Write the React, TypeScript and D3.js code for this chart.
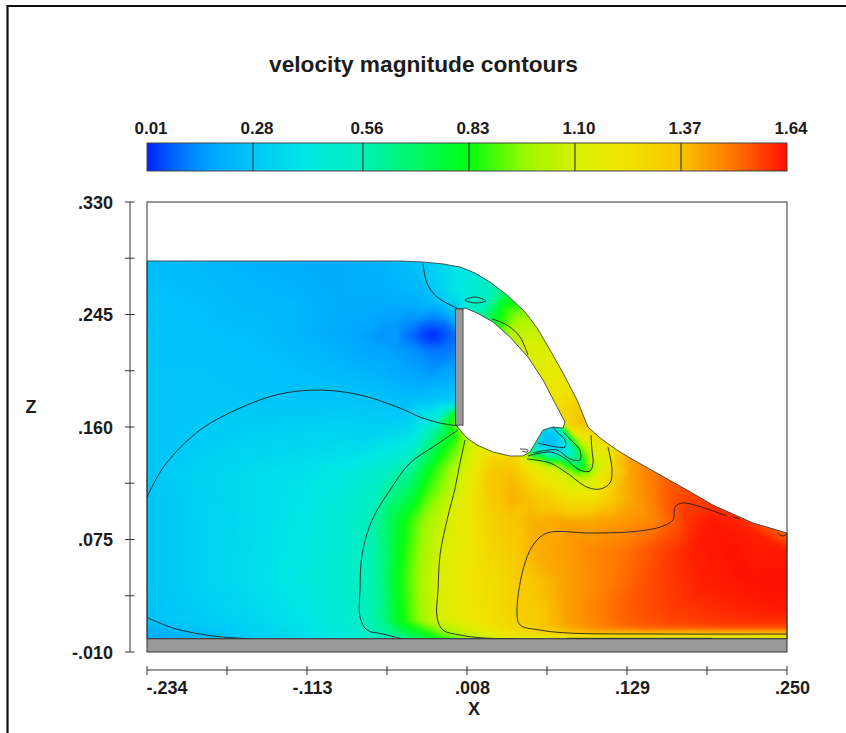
import React, { useMemo } from "react";
import * as d3 from "d3";

// All X / Z values are in thousandths of the axis units.
const xTicks = [-234, -173.5, -113, -52.5, 8, 68.5, 129, 189.5, 250];
const xTickLabels = ["-.234", "", "-.113", "", ".008", "", ".129", "", ".250"];
const zTicks = [330, 287.5, 245, 202.5, 160, 117.5, 75, 32.5, -10];
const zTickLabels = [".330", "", ".245", "", ".160", "", ".075", "", "-.010"];
const barLevels = [0.01, 0.28, 0.56, 0.83, 1.1, 1.37, 1.64];
const barLabels = ["0.01", "0.28", "0.56", "0.83", "1.10", "1.37", "1.64"];

const colorStops = [0.01, 0.08, 0.17, 0.28, 0.42, 0.56, 0.83, 0.98, 1.1, 1.22, 1.37, 1.5, 1.64];
const colorValues = ["#0020ff", "#0068ff", "#00a4ff", "#00c8f8", "#00e8e4", "#00f0b8", "#00ff10", "#a0f800", "#d8f000", "#f0e400", "#f8c400", "#ff7800", "#ff1000"];

const outerBoundary: [number, number][] = [[-234, 285.4], [-118.3, 285.4], [-42.7, 285.4], [-25.3, 284.7], [-10.2, 283.2], [2.7, 280.9], [14.1, 276.3], [25.4, 269.5], [38.3, 259.7], [51.9, 246.9], [61, 234.8], [70.8, 218.2], [80.6, 200.8], [91.2, 180.4], [99.5, 160], [108.6, 151.7], [121.4, 142.6], [131.3, 136.6], [174.4, 112.4], [194, 101], [224.3, 87.5], [250, 79.9], [250, 0], [-234, 0]];
const cavityBoundary: [number, number][] = [[-0.7, 249.2], [5, 249.2], [6.5, 249.9], [15.6, 246.1], [27.7, 239.3], [40.5, 228], [54.1, 212.9], [65.5, 195.5], [76.1, 175.1], [82.1, 163.8], [80.6, 159.2], [73, 160], [65.5, 157.7], [61, 150.2], [55.6, 141.1], [50.3, 138.1], [40.5, 138.1], [27.7, 141.1], [15.6, 146.4], [8, 151.7], [2.7, 157.7], [0.4, 160.8], [-0.7, 161.4]];
const plateX = [-0.7, 5];
const plateZ = [161.4, 249.2];
const wallZ = [-10, 0];

const contourLines: [number, number][][] = [
  [[-234, 107.1], [-220.4, 131.3], [-193.9, 157.7], [-163.7, 174.3], [-133.6, 184.9], [-103.2, 187.9], [-72.9, 184.2], [-42.7, 174.3], [-27.5, 167.5], [-12.4, 163], [1.2, 160.8]],
  [[-233.2, 15.7], [-214.3, 8.1], [-194, 3.6], [-176.5, 1.3], [-156.1, 0]],
  [[1.2, 157.7], [-17.7, 144.9], [-35.1, 132.8], [-50.2, 112.4], [-63.8, 89.7], [-71.4, 63.3], [-72.9, 36.8], [-72.9, 16.4], [-67.6, 6.6], [-55.5, 3.6], [-41.2, 0]],
  [[6.5, 150.2], [2.7, 132.8], [-1, 113.9], [-7.1, 89.7], [-12.4, 63.3], [-13.9, 36.8], [-14.7, 16.4], [-10.2, 6.6], [2.7, 2.8], [20.1, 0.6], [45.8, 0]],
  [[83.6, 0.3], [193.3, 0.3]],
  [[204.6, 92.7], [171.3, 102.6], [165.3, 99.5], [163.8, 89.7], [154, 84.4], [131.3, 80.7], [101, 79.9], [68.5, 79.9], [58, 70.8], [50.3, 52], [45.8, 19.5], [48.1, 10.4], [63.2, 6.6], [83.6, 4.4], [156.2, 3.6], [250, 3.6]],
  [[209.2, 92], [214.5, 90.5]],
  [[242.4, 80.2], [246.2, 77.6], [250, 79.1]],
  [[-25.3, 283.9], [-22.3, 268.8], [-14.7, 258.2], [0.4, 249.9]],
  [[26.9, 241.6], [38.3, 237], [48.1, 228], [54.1, 214.4]],
  [[53.4, 135.8], [70.8, 132.8], [83.6, 125.2], [98.7, 114.6], [108.6, 113.1], [116.1, 117.7], [117.7, 127.5], [114.6, 144.9]],
  [[54.1, 138.1], [70.8, 141.1], [80.6, 137.3], [93.4, 127.5], [101, 126.7], [103.3, 132.8], [102.5, 142.6], [101.8, 153.9]],
  [[57.9, 140.4], [76.1, 142.6], [86, 135.8], [93.4, 135], [93.4, 142.6], [88.2, 148.7], [80.6, 156.2]],
  [[61.7, 147.9], [76.1, 144.9], [82.1, 144.9], [82.1, 150.2], [76.1, 156.2], [73, 160]],
  [[48.1, 143.4], [54.1, 142.6], [53.4, 141.1], [49.6, 141.9]],
];
const closedContour: [number, number][] = [[6.5, 255.9], [14.1, 258.2], [22.4, 255.2], [14.1, 253.7]];

const leftX = [-234, -193.9, -156.1, -118.3, -88, -57.8, -35.1, -18.5, 1.2];
const speedZ289 = [0.24, 0.23, 0.21, 0.2, 0.2, 0.22, 0.27, 0.33, 0.4];
const speedZ256 = [0.26, 0.25, 0.23, 0.22, 0.2, 0.2, 0.2, 0.24, 0.38];
const speedZ229 = [0.27, 0.26, 0.25, 0.22, 0.19, 0.15, 0.09, 0.015, 0.1];
const speedZ203 = [0.27, 0.27, 0.26, 0.25, 0.23, 0.21, 0.17, 0.15, 0.18];
const speedZ180 = [0.27, 0.27, 0.27, 0.27, 0.27, 0.26, 0.25, 0.27, 0.3];
const wallX = [33, 55.6, 85.9, 123.7, 161.5, 206.9, 250];

const rowSamples: [number, number[], number[]][] = [
  [289.9, leftX, speedZ289],
  [256, leftX, speedZ256],
  [229.5, leftX, speedZ229],
  [203.1, leftX, speedZ203],
  [180.4, leftX, speedZ180],
  [157.7, [-234, -193.9, -156.1, -118.3, -88, -57.8, -35.1], [0.27, 0.285, 0.31, 0.32, 0.33, 0.32, 0.36]],
  [127.5, [-234, -193.9, -156.1, -118.3, -88, -57.8, -35.1, -18.5, 1.2, 10.3, 25.4, 40.5, 55.6, 70.8, 85.9, 101, 116.1, 131.3, 146.4, 161.5, 176.7], [0.27, 0.33, 0.36, 0.38, 0.42, 0.5, 0.62, 0.85, 1.05, 1.15, 1.34, 1.38, 1.22, 1.15, 1.0, 0.95, 1.25, 1.43, 1.49, 1.53, 1.57]],
  [104.8, [10.3, 25.4, 40.5, 55.6, 70.8, 85.9, 101, 116.1, 131.3, 146.4, 161.5, 176.7, 191.8], [1.2, 1.33, 1.4, 1.38, 1.33, 1.25, 1.25, 1.35, 1.42, 1.48, 1.55, 1.58, 1.58]],
  [89.7, [-234, -193.9, -156.1, -118.3, -88, -65.4, -46.5, -27.5, -7.1, 10.3, 25.4, 40.5, 55.6, 78.3, 101, 123.7, 146.4, 161.5, 176.7, 191.8], [0.27, 0.32, 0.36, 0.41, 0.47, 0.56, 0.76, 0.95, 1.1, 1.2, 1.3, 1.36, 1.4, 1.42, 1.42, 1.44, 1.47, 1.53, 1.6, 1.63]],
  [66.9, [10.3, 25.4, 40.5, 55.6, 78.3, 101, 123.7, 146.4, 176.7, 206.9, 250], [1.2, 1.28, 1.33, 1.4, 1.43, 1.47, 1.5, 1.55, 1.62, 1.64, 1.63]],
  [44.4, [-234, -193.9, -156.1, -118.3, -88, -72.9, -57.8, -46.5, -27.5, -14.7, 10.3, 33, 45.8, 78.3, 108.6, 146.4, 184.2, 222, 250], [0.27, 0.32, 0.37, 0.43, 0.49, 0.53, 0.62, 0.8, 1.0, 1.1, 1.22, 1.27, 1.33, 1.42, 1.48, 1.56, 1.62, 1.64, 1.64]],
  [21.7, [33, 45.8, 85.9, 123.7, 161.5, 206.9, 250], [1.27, 1.32, 1.44, 1.53, 1.58, 1.61, 1.63]],
  [14.2, [-234, -193.9, -156.1, -118.3, -88, -72.9, -57.8, -46.5, -27.5, -14.7, 10.3], [0.26, 0.3, 0.34, 0.4, 0.47, 0.52, 0.62, 0.78, 0.98, 1.08, 1.2]],
  [9.6, wallX, [1.25, 1.33, 1.43, 1.52, 1.56, 1.58, 1.58]],
  [4.3, [-234, -193.9, -156.1, -118.3, -88, -67.6, -46.5, -27.5, -10.2, 10.3], [0.2, 0.25, 0.32, 0.38, 0.45, 0.52, 0.65, 0.8, 0.95, 1.08]],
  [4.3, wallX, [1.2, 1.28, 1.36, 1.38, 1.38, 1.38, 1.38]],
  [1.7, wallX, [1.12, 1.16, 1.2, 1.18, 1.15, 1.15, 1.15]],
  [-1.7, [-234, -193.9, -156.1, -118.3, -88, -67.6, -46.5, -27.5, -10.2, 10.3], [0.17, 0.22, 0.28, 0.35, 0.42, 0.48, 0.55, 0.68, 0.8, 0.95]],
  [-1.7, wallX, [1.05, 1.06, 1.08, 1.08, 1.08, 1.08, 1.12]],
];

const spotSamples: [number, number, number][] = [
  [1.2, 172.9, 0.8], [-8.6, 172.9, 0.5], [1.2, 165.3, 0.98], [-8.6, 165.3, 0.74], [-18.5, 165.3, 0.45], [-8.6, 156.2, 0.74], [-1, 153.9, 0.85],
  [-18.5, 240.8, 0.1], [-18.5, 218.2, 0.1], [-8.6, 240.8, 0.13], [1.2, 248.4, 0.28], [-8.6, 218.2, 0.1], [-31.3, 240.8, 0.14], [-31.3, 218.2, 0.14], [1.2, 218.2, 0.13],
  [-26, 229.5, 0.04], [-10, 229.5, 0.05], [-26, 238, 0.08], [-26, 222, 0.08], [-10, 238, 0.08], [-10, 222, 0.08], [-46, 240.8, 0.16], [-46, 218.2, 0.16],
  [-12.4, 267.3, 0.33], [-27.5, 267.3, 0.24], [1.2, 263.5, 0.42],
];
const archSamples: [number, number, number][] = [
  [10.3, 284.7, 0.4], [10.3, 267.3, 0.46], [10.3, 250.6, 0.52], [25.4, 274.9, 0.55], [21.6, 256, 0.52], [17.8, 246.9, 0.58], [38.3, 263.5, 0.7], [35.2, 250.6, 0.85], [29.2, 242.3, 0.8],
  [51.9, 250.6, 0.92], [46.6, 240.8, 1.0], [40.5, 231.8, 1.02], [63.2, 237, 1.05], [55.6, 229.5, 1.07], [49.6, 220.4, 1.1], [74.5, 218.2, 1.12], [67.7, 212.1, 1.13], [59.4, 204.6, 1.15],
  [85.9, 199.3, 1.2], [78.3, 191.7, 1.2], [70.8, 184.2, 1.2], [95.7, 180.4, 1.3], [87.4, 174.3, 1.3], [78.3, 169, 1.28], [104, 161.5, 1.38], [93.4, 165.3, 1.38], [84.4, 161.5, 1.3],
  [106.3, 152.4, 1.25], [98.7, 144.9, 1.05], [93.4, 152.4, 1.15], [113.9, 137.3, 1.15], [121.4, 132.8, 1.35], [129, 129.8, 1.42], [108.6, 129.8, 1.08], [121.4, 146.4, 1.3], [131.3, 142.6, 1.42],
  [146.4, 131.3, 1.48], [176.7, 116.2, 1.56], [199.3, 104.8, 1.58], [215, 87, 1.62], [229.6, 89.7, 1.54], [229.6, 78, 1.62], [250, 83.7, 1.5], [250, 76.9, 1.54],
];
const bubbleSamples: [number, number, number][] = [
  [67, 156.2, 0.28], [73, 159.2, 0.28], [59.4, 144.9, 0.35], [65.5, 147.9, 0.22], [72.3, 147.9, 0.25], [76.1, 150.2, 0.28], [79.8, 156.2, 0.55], [82.1, 146.4, 0.35], [83.6, 140.4, 0.42], [78.3, 141.1, 0.4],
  [88.2, 142.6, 0.55], [91.2, 132.8, 0.62], [85.9, 133.5, 0.7], [95.7, 137.3, 0.85], [93.4, 144.9, 0.95], [87.4, 152.4, 0.9], [70.8, 136.6, 0.65], [63.2, 138.8, 0.75], [57.9, 140.4, 0.6], [54.1, 137.3, 1.0],
  [51.9, 141.1, 1.05], [63.2, 133.5, 1.05], [74.5, 131.3, 1.05], [83.6, 127.5, 0.95], [98.7, 127.5, 0.9], [101, 135.1, 1.05], [104.8, 142.6, 1.15], [89.7, 121.4, 1.05], [99.5, 120, 1.08], [70.8, 126, 1.15], [55.6, 129, 1.2],
  [6.5, 150.2, 1.0], [17.8, 144.1, 1.18], [33, 138.9, 1.28], [44.3, 136.6, 1.3],
];

const W = 846;
const H = 733;
const plot = { left: 147, right: 787, top: 202, bottom: 652 };
const bar = { top: 143, bottom: 171 };
const FONT = "'Liberation Sans', Arial, sans-serif";
const INK = "#1c1c1c";
const PAD = 14;

const xScale = d3.scaleLinear().domain([-234, 250]).range([plot.left, plot.right]);
const zScale = d3.scaleLinear().domain([-10, 330]).range([plot.bottom, plot.top]);
const barScale = d3.scaleLinear().domain([0.01, 1.64]).range([plot.left, plot.right]);
const colorScale = d3.scaleLinear<string>().domain(colorStops).range(colorValues).clamp(true);

function allSamples(): [number, number, number][] {
  const out: [number, number, number][] = [...spotSamples, ...archSamples, ...bubbleSamples];
  rowSamples.forEach(([z, xs, vs]) => xs.forEach((x, i) => out.push([x, z, vs[i]])));
  return out;
}

function renderField(): string {
  const w = plot.right - plot.left + PAD * 2;
  const h = plot.bottom - plot.top + PAD * 2;
  const ox = plot.left - PAD;
  const oy = plot.top - PAD;
  const samples = allSamples();
  const pts: [number, number, number][] = samples.map(([x, z, v]) => [xScale(x) - ox, zScale(z) - oy, v]);
  // extend the outermost samples so the blur keeps full opacity at the plot edges
  samples.forEach(([x, z, v]) => {
    const px = xScale(x) - ox;
    const py = zScale(z) - oy;
    if (x <= -234) pts.push([0, py, v]);
    if (x >= 250) pts.push([w, py, v]);
    if (z <= -1.7) pts.push([px, h, v]);
  });
  pts.push([0, h, 0.17], [w, h, 1.12]);
  const del = d3.Delaunay.from(pts, (p) => p[0], (p) => p[1]);
  const lut = d3.range(1024).map((i) => d3.rgb(colorScale(0.01 + (1.63 * i) / 1023)));
  const canvas = document.createElement("canvas");
  canvas.width = w;
  canvas.height = h;
  const ctx = canvas.getContext("2d")!;
  const img = ctx.createImageData(w, h);
  const tri = del.triangles;
  for (let t = 0; t < tri.length; t += 3) {
    const [ax, ay, av] = pts[tri[t]];
    const [bx, by, bv] = pts[tri[t + 1]];
    const [cx, cy, cv] = pts[tri[t + 2]];
    const den = (by - cy) * (ax - cx) + (cx - bx) * (ay - cy);
    if (Math.abs(den) < 1e-6) continue;
    const x0 = Math.max(0, Math.floor(Math.min(ax, bx, cx)));
    const x1 = Math.min(w - 1, Math.ceil(Math.max(ax, bx, cx)));
    const y0 = Math.max(0, Math.floor(Math.min(ay, by, cy)));
    const y1 = Math.min(h - 1, Math.ceil(Math.max(ay, by, cy)));
    for (let y = y0; y <= y1; y++) {
      for (let x = x0; x <= x1; x++) {
        const l1 = ((by - cy) * (x - cx) + (cx - bx) * (y - cy)) / den;
        const l2 = ((cy - ay) * (x - cx) + (ax - cx) * (y - cy)) / den;
        const l3 = 1 - l1 - l2;
        if (l1 < -0.01 || l2 < -0.01 || l3 < -0.01) continue;
        const v = l1 * av + l2 * bv + l3 * cv;
        const c = lut[Math.max(0, Math.min(1023, Math.round(((v - 0.01) / 1.63) * 1023)))];
        const k = (y * w + x) * 4;
        img.data[k] = c.r;
        img.data[k + 1] = c.g;
        img.data[k + 2] = c.b;
        img.data[k + 3] = 255;
      }
    }
  }
  ctx.putImageData(img, 0, 0);
  const soft = document.createElement("canvas");
  soft.width = w;
  soft.height = h;
  const sctx = soft.getContext("2d")!;
  sctx.drawImage(canvas, 0, 0);
  sctx.filter = "blur(2.2px)";
  sctx.drawImage(canvas, 0, 0);
  return soft.toDataURL("image/png");
}

const toXY = (p: [number, number]): [number, number] => [xScale(p[0]), zScale(p[1])];
const smooth = d3.line().curve(d3.curveCatmullRom.alpha(0.5));
const smoothClosed = d3.line().curve(d3.curveCatmullRomClosed.alpha(0.5));
const straight = d3.line();

export default function App() {
  const href = useMemo(renderField, []);
  const outerPath = straight(outerBoundary.map(toXY))! + "Z";
  const cavityPath = straight(cavityBoundary.map(toXY))! + "Z";
  const fluidPath = outerPath + cavityPath;
  return (
    <svg width={W} height={H} viewBox={`0 0 ${W} ${H}`} style={{ position: "fixed", left: 0, top: 0, background: "#fff" }} fontFamily={FONT}>
      <defs>
        <linearGradient id="bar" x1="0" x2="1" y1="0" y2="0">
          {colorStops.map((s, i) => (
            <stop key={i} offset={(barScale(s) - plot.left) / (plot.right - plot.left)} stopColor={colorValues[i]} />
          ))}
        </linearGradient>
        <clipPath id="fluid">
          <path d={fluidPath} clipRule="evenodd" />
        </clipPath>
      </defs>

      <path d={`M7.5,733V6H846`} fill="none" stroke="#111" strokeWidth={2.2} />

      <text x={423.5} y={72} textAnchor="middle" fontSize={22.7} fontWeight="bold" fill={INK}>velocity magnitude contours</text>

      <rect x={plot.left} y={bar.top} width={plot.right - plot.left} height={bar.bottom - bar.top} fill="url(#bar)" stroke="#444" strokeWidth={1} />
      {barLevels.slice(1, -1).map((v) => (
        <line key={v} x1={barScale(v)} x2={barScale(v)} y1={bar.top} y2={bar.bottom} stroke="#222" strokeWidth={1} />
      ))}
      {barLevels.map((v, i) => (
        <text key={v} x={barScale(v) + 4} y={134} textAnchor="middle" fontSize={17} fontWeight="bold" fill={INK}>{barLabels[i]}</text>
      ))}

      <image href={href} x={plot.left - PAD} y={plot.top - PAD} width={plot.right - plot.left + PAD * 2} height={plot.bottom - plot.top + PAD * 2} clipPath="url(#fluid)" />

      <path d={fluidPath} fillRule="evenodd" fill="none" stroke="#3a3a3a" strokeWidth={1} opacity={0.85} />
      {contourLines.map((c, i) => (
        <path key={i} d={smooth(c.map(toXY))!} fill="none" stroke="#1a1a1a" strokeWidth={1} opacity={0.85} />
      ))}
      <path d={smoothClosed(closedContour.map(toXY))!} fill="none" stroke="#1a1a1a" strokeWidth={1} opacity={0.85} />

      <rect x={xScale(plateX[0])} y={zScale(plateZ[1])} width={xScale(plateX[1]) - xScale(plateX[0])} height={zScale(plateZ[0]) - zScale(plateZ[1])} fill="#999" stroke="#333" strokeWidth={0.8} />
      <rect x={plot.left} y={zScale(wallZ[1])} width={plot.right - plot.left} height={zScale(wallZ[0]) - zScale(wallZ[1])} fill="#999" stroke="none" />
      <line x1={plot.left} x2={plot.right} y1={zScale(wallZ[1])} y2={zScale(wallZ[1])} stroke="#333" strokeWidth={1} />
      <rect x={plot.left} y={plot.top} width={plot.right - plot.left} height={plot.bottom - plot.top} fill="none" stroke="#333" strokeWidth={1} />

      <line x1={130} x2={130} y1={zScale(330)} y2={zScale(-10)} stroke="#333" strokeWidth={1} />
      {zTicks.map((t, i) => (
        <g key={t}>
          <line x1={125} x2={134.5} y1={zScale(t)} y2={zScale(t)} stroke="#333" strokeWidth={1} />
          {zTickLabels[i] && (
            <text x={113} y={zScale(t) + 6.5} textAnchor="end" fontSize={18} fontWeight="bold" fill={INK}>{zTickLabels[i]}</text>
          )}
        </g>
      ))}
      <text x={31} y={412.5} textAnchor="middle" fontSize={18} fontWeight="bold" fill={INK}>Z</text>

      <line x1={xScale(-234)} x2={xScale(250)} y1={670} y2={670} stroke="#333" strokeWidth={1} />
      {xTicks.map((t, i) => (
        <g key={t}>
          <line x1={xScale(t)} x2={xScale(t)} y1={666} y2={675} stroke="#333" strokeWidth={1} />
          {xTickLabels[i] && (
            <text x={xScale(t) + (i === 0 ? 20 : 5.5)} y={694} textAnchor="middle" fontSize={18} fontWeight="bold" fill={INK}>{xTickLabels[i]}</text>
          )}
        </g>
      ))}
      <text x={474} y={714.5} textAnchor="middle" fontSize={18} fontWeight="bold" fill={INK}>X</text>
    </svg>
  );
}
